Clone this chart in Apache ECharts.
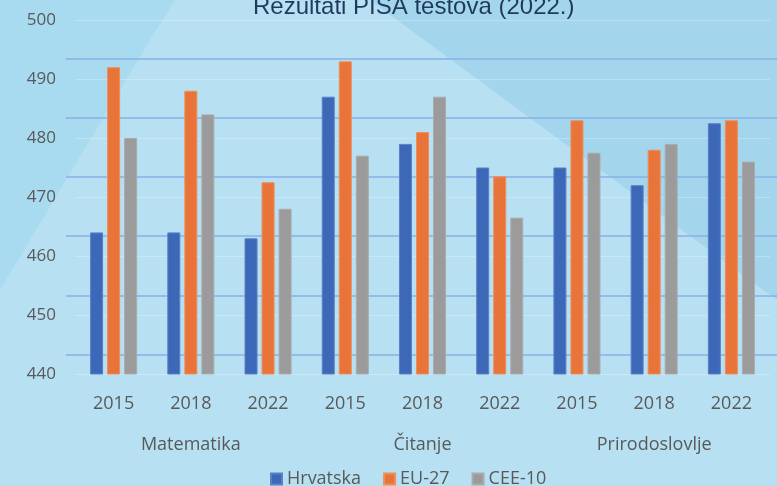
<!DOCTYPE html>
<html>
<head>
<meta charset="utf-8">
<script src="https://cdn.jsdelivr.net/npm/echarts@6/dist/echarts.min.js"></script>
<style>
    html, body {margin: 0; padding: 0; background: #b7e0f2;}
    #main {width: 777px; height: 486px;}
</style>
</head>
<body>
<div id="main"></div>
<script>
// PISA rezultati po predmetu i godini
let years = ['2015', '2018', '2022', '2015', '2018', '2022', '2015', '2018', '2022'];
let subjects = ['Matematika', 'Čitanje', 'Prirodoslovlje'];
let hrvatska = [464, 464, 463, 487, 479, 475, 475, 472, 482.5];
let eu27 = [492, 488, 472.5, 493, 481, 473.5, 483, 478, 483];
let cee10 = [480, 484, 468, 477, 487, 466.5, 477.5, 479, 476];
let yTicks = [440, 450, 460, 470, 480, 490, 500];

(function() {
    var chart = echarts.init(document.getElementById('main'));
    var font = '"Open Sans", "Noto Sans", sans-serif';
    var textGray = '#595959';

    function barSeries(name, data, color, border) {
        return {
            name: name,
            type: 'bar',
            xAxisIndex: 0,
            yAxisIndex: 0,
            data: data,
            barWidth: 13,
            barGap: '31%',
            itemStyle: {color: color, borderColor: border, borderWidth: 1}
        };
    }

    var option = {
        backgroundColor: '#b7e0f2',
        textStyle: {fontFamily: font},
        graphic: [
            // tamniji kutovi pozadine
            {
                type: 'polygon', z: -10, silent: true,
                shape: {points: [[0, 0], [175, 0], [150, 40], [120, 90], [90, 140], [60, 190], [30, 240], [0, 290]]},
                style: {fill: '#a9dbf0'}
            },
            {
                type: 'polygon', z: -10, silent: true,
                shape: {points: [[370, 0], [777, 0], [777, 300]]},
                style: {fill: '#a3d5ec'}
            }
        ],
        title: {
            text: 'Rezultati PISA testova (2022.)',
            left: 248,
            top: -10,
            textStyle: {fontFamily: '"Liberation Sans", Arial, sans-serif', fontSize: 24, fontWeight: 'normal', color: '#1f3a5c'}
        },
        legend: {
            data: ['Hrvatska', 'EU-27', 'CEE-10'],
            left: 265,
            top: 465,
            icon: 'rect',
            itemWidth: 11,
            itemHeight: 11,
            itemGap: 22,
            textStyle: {fontFamily: font, fontSize: 18, color: textGray}
        },
        grid: [
            {left: 75, right: 7, top: 20, bottom: 112},
            {left: 66, right: 0, top: 58.5, bottom: 131.5}
        ],
        xAxis: [
            {
                type: 'category', gridIndex: 0, data: years,
                axisLine: {show: false}, axisTick: {show: false},
                axisLabel: {color: textGray, fontSize: 18, margin: 21, interval: 0}
            },
            {
                type: 'category', gridIndex: 0, position: 'bottom', offset: 43,
                data: subjects,
                axisLine: {show: false}, axisTick: {show: false},
                axisLabel: {color: textGray, fontSize: 18, margin: 19, interval: 0}
            },
            {type: 'value', gridIndex: 1, min: 0, max: 1, show: false}
        ],
        yAxis: [
            {
                type: 'value', gridIndex: 0,
                min: yTicks[0], max: yTicks[yTicks.length - 1], interval: 10,
                axisLine: {show: false}, axisTick: {show: false},
                axisLabel: {color: textGray, fontSize: 17, margin: 19},
                splitLine: {lineStyle: {color: 'rgba(255,255,255,0.25)', width: 1}}
            },
            {
                // plave linije mreže (pomaknute kao na izvorniku)
                type: 'value', gridIndex: 1, min: 0, max: 50, interval: 10,
                axisLine: {show: false}, axisTick: {show: false}, axisLabel: {show: false},
                splitLine: {lineStyle: {color: '#88b0e6', width: 1.5}}
            }
        ],
        series: [
            barSeries('Hrvatska', hrvatska, '#3d68b8', '#5a80c6'),
            barSeries('EU-27', eu27, '#e8743a', '#f08d58'),
            barSeries('CEE-10', cee10, '#9b9b9b', '#ababab')
        ]
    };
    chart.setOption(option);
})();
</script>
</body>
</html>
